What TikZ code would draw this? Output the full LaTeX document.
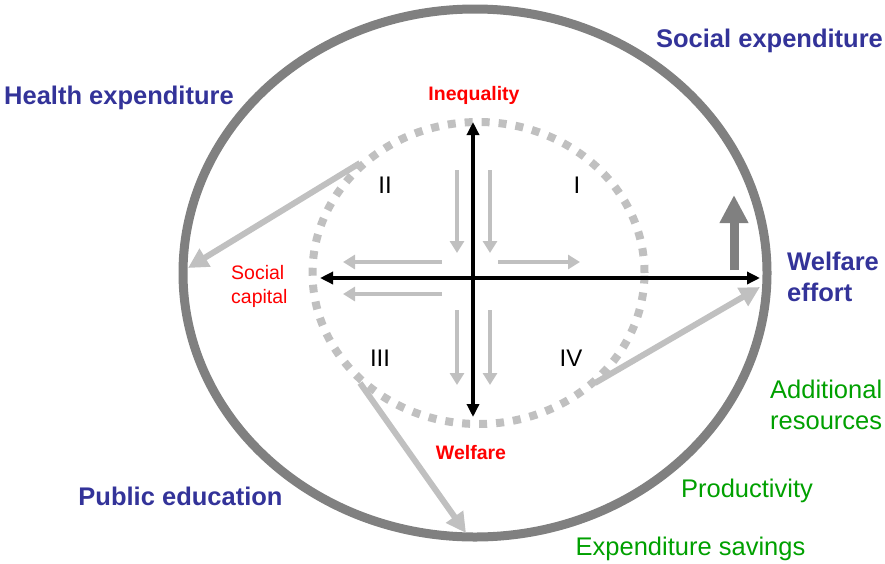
\documentclass[tikz,border=0pt]{standalone}
\usepackage{fontspec}
\setmainfont{Liberation Sans}
\usetikzlibrary{arrows.meta}
\definecolor{navy}{RGB}{51,51,153}
\definecolor{grn}{RGB}{0,160,0}
\definecolor{lgray}{RGB}{192,192,192}
\definecolor{dgray}{RGB}{128,128,128}
\tikzset{
  bigtxt/.style={inner sep=0pt, font=\fontsize{25.5}{31}\selectfont\bfseries, text=navy},
  grntxt/.style={inner sep=0pt, font=\fontsize{25.5}{31}\selectfont, text=grn},
  redbold/.style={inner sep=0pt, font=\fontsize{19.5}{24}\selectfont\bfseries, text=red},
  redtxt/.style={inner sep=0pt, font=\fontsize{19.5}{24}\selectfont, text=red},
  numtxt/.style={inner sep=0pt, font=\fontsize{24}{28}\selectfont, text=black},
  smallarr/.style={draw=lgray, line width=4.5pt, -{Triangle[length=12pt,width=14pt]}},
  bigarr/.style={draw=lgray, line width=6pt, -{Triangle[length=20pt,width=20pt]}},
  axis/.style={draw=black, line width=3.5pt, {Triangle[length=13pt,width=12pt]}-{Triangle[length=13pt,width=12pt]}},
}
\begin{document}
\begin{tikzpicture}[x=1pt,y=-1pt]
\useasboundingbox (0,0) rectangle (885,563);
% outer ellipse
\draw[dgray, line width=9pt] (475,273) ellipse [x radius=292pt, y radius=264pt];
% inner dashed ellipse
\draw[lgray, line width=8pt, dash pattern=on 8pt off 9pt] (478.5,273) ellipse [x radius=166pt, y radius=151pt];

% named coordinates
\coordinate (haS) at (360,163);
\coordinate (haE) at (188,268);
\coordinate (weS) at (595,383);
\coordinate (weE) at (760,287);
\coordinate (peS) at (360,383);
\coordinate (peE) at (466,533);
\coordinate (upS) at (734,270);
\coordinate (upE) at (734,195);
\coordinate (axT) at (473,122);
\coordinate (axB) at (473,417);
\coordinate (axL) at (320,278);
\coordinate (axR) at (760,278);
\coordinate (v1s) at (457,170); \coordinate (v1e) at (457,253);
\coordinate (v2s) at (490,170); \coordinate (v2e) at (490,253);
\coordinate (v3s) at (457,310); \coordinate (v3e) at (457,385);
\coordinate (v4s) at (490,310); \coordinate (v4e) at (490,385);
\coordinate (h1s) at (442,262); \coordinate (h1e) at (343,262);
\coordinate (h2s) at (442,294); \coordinate (h2e) at (343,294);
\coordinate (h3s) at (498,262); \coordinate (h3e) at (580,262);

% big gray arrows
\draw[bigarr] (haS) -- (haE);
\draw[bigarr] (weS) -- (weE);
\draw[bigarr] (peS) -- (peE);
% dark gray up arrow
\draw[dgray, line width=9pt, -{Triangle[length=28pt,width=27pt]}] (upS) -- (upE);

% small gray arrows
\draw[smallarr] (v1s) -- (v1e);
\draw[smallarr] (v2s) -- (v2e);
\draw[smallarr] (v3s) -- (v3e);
\draw[smallarr] (v4s) -- (v4e);
\draw[smallarr] (h1s) -- (h1e);
\draw[smallarr] (h2s) -- (h2e);
\draw[smallarr] (h3s) -- (h3e);

% axes
\draw[axis] (axB) -- (axT);
\draw[axis] (axL) -- (axR);

% labels
\node[bigtxt, anchor=base] (socexp) at (769.5,47) {Social expenditure};
\node[bigtxt, anchor=base] (healthexp) at (119,104) {Health expenditure};
\node[bigtxt, anchor=base] (pubedu) at (180.5,505) {Public education};
\node[bigtxt, anchor=base west, align=left] (weleff) at (787,301) {Welfare\\effort};
\node[grntxt, anchor=base west, align=left] (addres) at (770,429) {Additional\\resources};
\node[grntxt, anchor=base] (prod) at (747,497) {Productivity};
\node[grntxt, anchor=base] (expsav) at (690.5,555) {Expenditure savings};
\node[redbold, anchor=base] (ineq) at (474,100) {Inequality};
\node[redbold, anchor=base] (welf) at (471,459) {Welfare};
\node[redtxt, anchor=base west, align=left] (soccap) at (231,303) {Social\\capital};
\node[numtxt, anchor=base] (q1) at (577,193) {I};
\node[numtxt, anchor=base] (q2) at (385,193) {II};
\node[numtxt, anchor=base] (q3) at (380,366) {III};
\node[numtxt, anchor=base] (q4) at (571,366) {IV};
\end{tikzpicture}
\end{document}
